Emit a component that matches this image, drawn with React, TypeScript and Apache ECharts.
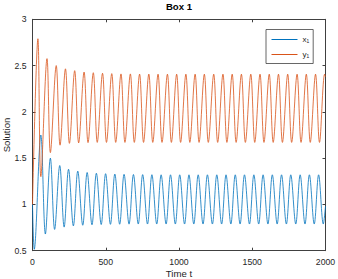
import React, { useEffect, useRef } from "react";
import * as echarts from "echarts";

// Tick labels / axes
const xTicks = [0, 500, 1000, 1500, 2000];
const yTicks = [0.5, 1, 1.5, 2, 2.5, 3];

// x1 (blue): start, troughs and peaks
const x1Start: [number, number] = [0, 1.0];
const x1TroughT = [12, 88, 151, 216, 279, 343, 406, 469, 532, 595, 659, 722, 785, 848, 912, 975, 1038, 1101, 1164, 1228, 1291, 1354, 1417, 1481, 1544, 1607, 1670, 1733, 1797, 1860, 1923, 1985];
const x1TroughV = [0.515, 0.68, 0.73, 0.755, 0.768, 0.775, 0.78, 0.783, 0.785, 0.786, 0.787, 0.788, 0.788, 0.788, 0.788, 0.788, 0.788, 0.788, 0.788, 0.788, 0.788, 0.788, 0.788, 0.788, 0.788, 0.788, 0.788, 0.788, 0.788, 0.788, 0.788, 0.788];
const x1PeakT = [57, 122, 186, 246, 309, 373, 436, 499, 562, 625, 689, 752, 815, 878, 942, 1005, 1068, 1131, 1194, 1258, 1321, 1384, 1447, 1511, 1574, 1637, 1700, 1763, 1827, 1890, 1953];
const x1PeakV = [1.75, 1.5, 1.42, 1.38, 1.36, 1.345, 1.337, 1.332, 1.328, 1.325, 1.323, 1.322, 1.321, 1.32, 1.32, 1.32, 1.32, 1.32, 1.32, 1.32, 1.32, 1.32, 1.32, 1.32, 1.32, 1.32, 1.32, 1.32, 1.32, 1.32, 1.32];
const x1End: [number, number] = [2000, 0.98];

// y1 (orange)
const y1Start: [number, number] = [0, 1.0];
const y1PeakT = [37, 99, 162, 225, 288, 352, 415, 478, 541, 604, 668, 731, 794, 857, 921, 984, 1047, 1110, 1173, 1237, 1300, 1363, 1426, 1490, 1553, 1616, 1679, 1742, 1806, 1869, 1932, 1994];
const y1PeakV = [2.79, 2.575, 2.5, 2.465, 2.445, 2.43, 2.423, 2.417, 2.413, 2.41, 2.41, 2.408, 2.408, 2.407, 2.407, 2.407, 2.407, 2.407, 2.407, 2.407, 2.407, 2.407, 2.407, 2.407, 2.407, 2.407, 2.407, 2.407, 2.407, 2.407, 2.407, 2.407];
const y1TroughT = [57, 122, 188, 252, 315, 379, 442, 505, 568, 631, 695, 758, 821, 884, 948, 1011, 1074, 1137, 1200, 1264, 1327, 1390, 1453, 1517, 1580, 1643, 1706, 1769, 1833, 1896, 1959];
const y1TroughV = [1.3, 1.56, 1.64, 1.66, 1.665, 1.668, 1.67, 1.67, 1.67, 1.67, 1.67, 1.67, 1.67, 1.67, 1.67, 1.67, 1.67, 1.67, 1.67, 1.67, 1.67, 1.67, 1.67, 1.67, 1.67, 1.67, 1.67, 1.67, 1.67, 1.67, 1.67];
const y1End: [number, number] = [2000, 2.38];

const seriesNames = ["x\u2081", "y\u2081"];

function merge(
  start: [number, number],
  aT: number[], aV: number[],
  bT: number[], bV: number[],
  end: [number, number]
): [number, number][] {
  const pts: [number, number][] = [start];
  aT.forEach((t, i) => pts.push([t, aV[i]]));
  bT.forEach((t, i) => pts.push([t, bV[i]]));
  pts.push(end);
  return pts.sort((p, q) => p[0] - q[0]);
}

const FONT = "'Liberation Sans', Arial, Helvetica, sans-serif";
const AX = "#404040";

export default function App() {
  const ref = useRef<HTMLDivElement>(null);
  useEffect(() => {
    if (!ref.current) return;
    const chart = echarts.init(ref.current, undefined, { renderer: "svg" });
    const x1Data = merge(x1Start, x1TroughT, x1TroughV, x1PeakT, x1PeakV, x1End);
    const y1Data = merge(y1Start, y1PeakT, y1PeakV, y1TroughT, y1TroughV, y1End);
    const axisCommon = {
      axisLine: { show: true, onZero: false, lineStyle: { color: AX, width: 1 } },
      axisTick: { show: true, inside: true, length: 3, lineStyle: { color: AX } },
      splitLine: { show: false },
    };
    chart.setOption({
      animation: false,
      backgroundColor: "#ffffff",
      textStyle: { fontFamily: FONT },
      grid: {
        left: 32.5,
        right: 12.5,
        top: 19.3,
        bottom: 28.3,
        containLabel: false,
        outerBoundsMode: "none",
      },
      graphic: [
        {
          type: "text",
          x: 179,
          y: 6.5,
          style: {
            text: "Box 1",
            font: `bold 9.6px ${FONT}`,
            fill: "#000000",
            textAlign: "center",
            textVerticalAlign: "middle",
          },
        },
      ],
      legend: {
        orient: "vertical",
        left: 266,
        top: 29.5,
        padding: [6, 4, 5, 5],
        itemWidth: 26,
        itemHeight: 10,
        itemGap: 7,
        itemStyle: { opacity: 0 },
        lineStyle: { width: 1 },
        borderColor: "#404040",
        borderWidth: 0.8,
        borderRadius: 0,
        backgroundColor: "#ffffff",
        textStyle: { fontSize: 8, color: "#262626", fontFamily: FONT, padding: [0, 0, 0, 0] },
        data: seriesNames,
      },
      xAxis: [
        {
          type: "value",
          min: xTicks[0],
          max: xTicks[xTicks.length - 1],
          interval: 500,
          ...axisCommon,
          axisLabel: {
            fontSize: 8.7,
            color: "#262626",
            margin: 6.5,
            fontFamily: FONT,
            formatter: (v: number) => String(v),
          },
          name: "Time t",
          nameLocation: "middle",
          nameGap: 18,
          nameMoveOverlap: false,
          nameTextStyle: { fontSize: 9.6, color: "#262626", fontFamily: FONT },
        },
        {
          type: "value",
          position: "top",
          min: xTicks[0],
          max: xTicks[xTicks.length - 1],
          interval: 500,
          ...axisCommon,
          axisLabel: { show: false },
        },
      ],
      yAxis: [
        {
          type: "value",
          min: yTicks[0],
          max: yTicks[yTicks.length - 1],
          interval: 0.5,
          ...axisCommon,
          axisLabel: {
            fontSize: 8.7,
            color: "#262626",
            margin: 6,
            fontFamily: FONT,
            formatter: (v: number) => String(v),
          },
          name: "Solution",
          nameLocation: "middle",
          nameGap: 21,
          nameMoveOverlap: false,
          nameTextStyle: { fontSize: 9.6, color: "#262626", fontFamily: FONT },
        },
        {
          type: "value",
          position: "right",
          min: yTicks[0],
          max: yTicks[yTicks.length - 1],
          interval: 0.5,
          ...axisCommon,
          axisLabel: { show: false },
        },
      ],
      series: [
        {
          name: seriesNames[0],
          type: "line",
          data: x1Data,
          symbol: "none",
          smooth: 0.35,
          lineStyle: { color: "#0072BD", width: 0.8 },
          itemStyle: { color: "#0072BD" },
        },
        {
          name: seriesNames[1],
          type: "line",
          data: y1Data,
          symbol: "none",
          smooth: 0.35,
          lineStyle: { color: "#D95319", width: 0.8 },
          itemStyle: { color: "#D95319" },
        },
      ],
    });
    return () => chart.dispose();
  }, []);
  return (
    <div
      ref={ref}
      style={{ position: "fixed", left: 0, top: 0, width: 338, height: 279, background: "#fff" }}
    />
  );
}
